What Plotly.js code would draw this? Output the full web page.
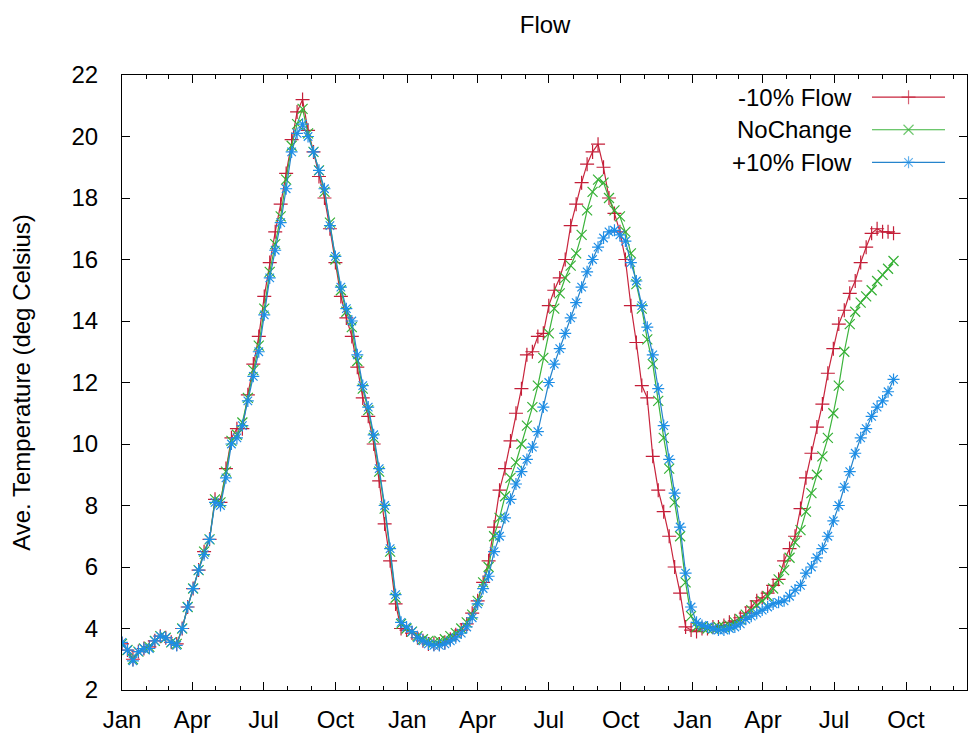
<!DOCTYPE html>
<html>
<head>
<meta charset="utf-8">
<script src="https://cdn.plot.ly/plotly-3.0.1.min.js"></script>
<style>html,body{margin:0;padding:0;background:#fff;}#chart{width:969px;height:735px;}</style>
</head>
<body>
<div id="chart"></div>
<script>
// Weekly series, starting first week of January (year 1), 142 weeks
const startDate = '2001-01-01';
const seriesNames = ['-10% Flow', 'NoChange', '+10% Flow'];

const minus10 = [
  3.5, 3.3, 3.0, 3.25, 3.35, 3.4, 3.6, 3.75, 3.7, 3.55,
  3.5, 4.0, 4.7, 5.3, 5.9, 6.5, 6.9, 8.2, 8.1, 9.2,
  10.2, 10.5, 10.5, 11.6, 12.6, 13.5, 14.8, 15.9, 16.9, 17.8,
  18.8, 19.9, 20.8, 21.2, 20.2, 19.5, 18.7, 18.0, 17.0, 15.9,
  14.8, 14.1, 13.5, 12.5, 11.5, 10.9, 10.0, 8.8, 7.4, 6.2,
  4.8, 4.0, 3.95, 3.85, 3.7, 3.6, 3.5, 3.5, 3.5, 3.55,
  3.65, 3.8, 3.95, 4.15, 4.5, 4.9, 5.5, 6.2, 7.3, 8.5,
  9.2, 10.1, 11.0, 11.8, 12.9, 13.0, 13.5, 13.6, 14.5, 15.0,
  15.4, 16.0, 17.1, 17.8, 18.5, 19.1, 19.5, 19.75, 19.0, 18.0,
  17.5, 16.9, 16.0, 14.5, 13.3, 11.9, 11.5, 9.6, 8.5, 7.8,
  7.0, 6.0, 5.15, 4.05, 3.95, 3.9, 4.0, 4.0, 4.05, 4.05,
  4.1, 4.2, 4.25, 4.35, 4.5, 4.7, 4.9, 5.0, 5.15, 5.4,
  5.6, 6.2, 6.6, 7.0, 7.9, 8.9, 9.7, 10.55, 11.3, 12.3,
  13.1, 13.9, 14.35, 14.9, 15.3, 15.9, 16.4, 16.85, 17.0, 16.9,
  16.9, 16.85
];

const noChange = [
  3.5, 3.3, 3.0, 3.25, 3.35, 3.4, 3.6, 3.75, 3.7, 3.55,
  3.5, 4.0, 4.7, 5.3, 5.9, 6.5, 6.9, 8.2, 8.1, 9.1,
  10.1, 10.3, 10.7, 11.5, 12.4, 13.2, 14.4, 15.6, 16.5, 17.4,
  18.6, 19.7, 20.4, 20.9, 20.1, 19.5, 18.9, 18.2, 17.2, 16.0,
  15.0, 14.3, 13.8, 12.7, 11.8, 11.1, 10.2, 9.1, 7.9, 6.5,
  5.0, 4.15, 4.0, 3.9, 3.75, 3.65, 3.6, 3.55, 3.6, 3.65,
  3.75, 3.85, 4.0, 4.2, 4.45, 4.9, 5.5, 6.0, 7.0, 7.6,
  8.3, 8.9, 9.4, 10.0, 10.6, 11.2, 11.9, 12.8, 13.6, 14.4,
  14.9, 15.4, 15.8, 16.2, 16.8, 17.6, 18.2, 18.6, 18.5, 18.0,
  17.6, 17.4, 16.9, 16.2, 15.2, 14.4, 13.4, 12.6, 11.4, 10.2,
  9.2, 8.1, 7.0, 5.5, 4.4, 4.05, 4.05, 4.0, 4.0, 4.05,
  4.05, 4.1, 4.2, 4.3, 4.45, 4.6, 4.75, 4.9, 5.05, 5.3,
  5.6, 5.9, 6.3, 6.8, 7.2, 7.8, 8.4, 9.0, 9.6, 10.2,
  11.0, 11.9, 13.0, 13.9, 14.3, 14.6, 14.8, 15.0, 15.3, 15.5,
  15.7, 15.95
];

const plus10 = [
  3.55, 3.3, 2.95, 3.25, 3.35, 3.35, 3.6, 3.75, 3.7, 3.55,
  3.45, 4.0, 4.7, 5.3, 5.9, 6.4, 6.9, 8.1, 8.0, 8.9,
  10.0, 10.2, 10.6, 11.4, 12.2, 13.0, 14.2, 15.4, 16.3, 17.2,
  18.3, 19.5, 20.1, 20.4, 20.0, 19.5, 18.9, 18.3, 17.1, 16.1,
  15.1, 14.4, 14.0, 12.9, 11.9, 11.2, 10.3, 9.2, 8.0, 6.6,
  5.1, 4.2, 4.05, 3.9, 3.7, 3.6, 3.5, 3.45, 3.45, 3.5,
  3.6, 3.7, 3.85, 4.05, 4.35, 4.8, 5.3, 5.7, 6.5, 7.0,
  7.6, 8.2, 8.7, 9.1, 9.5, 9.9, 10.4, 11.2, 12.0, 12.6,
  13.1, 13.6, 14.1, 14.6, 15.1, 15.6, 16.0, 16.4, 16.7, 16.9,
  16.95, 16.8, 16.6, 15.9, 15.3, 14.5, 13.8, 12.9, 11.8, 10.6,
  9.5, 8.4, 7.3, 5.8, 4.7, 4.2, 4.1, 4.05, 4.0, 3.95,
  3.95, 4.0, 4.05, 4.15, 4.3, 4.4, 4.5, 4.6, 4.7, 4.8,
  4.85, 4.9, 5.05, 5.25, 5.4, 5.8, 6.0, 6.3, 6.6, 7.0,
  7.5, 8.0, 8.6, 9.1, 9.7, 10.2, 10.5, 10.9, 11.2, 11.4,
  11.7, 12.1
];

const yTickVals = [2, 4, 6, 8, 10, 12, 14, 16, 18, 20, 22];

// weekly dates
function weekDates(n) {
  const out = [];
  const t0 = Date.parse(startDate + 'T00:00:00Z');
  for (let i = 0; i < n; i++) {
    const d = new Date(t0 + i * 7 * 86400000);
    out.push(d.toISOString().slice(0, 10));
  }
  return out;
}
const dates = weekDates(minus10.length);

const colors = ['#c8243c', '#3cb43c', '#2584cc'];
const markerColors = ['#c41e38', '#35b035', '#1e8ee6'];
const symbols = ['cross-thin-open', 'x-thin-open', 'asterisk-open'];
const values = [minus10, noChange, plus10];

const FONT = 'Liberation Sans, Arial, sans-serif';
const FS = 24;

const traces = values.map((v, i) => ({
  type: 'scatter', mode: 'lines+markers', x: dates, y: v, name: seriesNames[i],
  line: {color: colors[i], width: 1.2},
  marker: {symbol: symbols[i], size: 10, color: markerColors[i], line: {width: 1.2, color: markerColors[i]}},
  showlegend: false, hoverinfo: 'skip'
}));

// legend samples (on an overlay axis in 0..1 units)
const legY = [0.964, 0.911, 0.858];
values.forEach((v, i) => {
  traces.push({
    type: 'scatter', mode: 'lines+markers', xaxis: 'x2', yaxis: 'y2',
    x: [0.8876, 0.9308, 0.974], y: [legY[i], legY[i], legY[i]],
    line: {color: colors[i], width: 1.2},
    marker: {symbol: symbols[i], size: [0, 10, 0], color: markerColors[i], line: {width: 1.2, color: markerColors[i]}},
    showlegend: false, hoverinfo: 'skip'
  });
});

const annotations = seriesNames.map((n, i) => ({
  xref: 'paper', yref: 'paper', x: 0.866, y: legY[i], xanchor: 'right', yanchor: 'middle',
  text: n, showarrow: false, font: {family: FONT, size: FS, color: '#000'}
}));

const layout = {
  width: 969, height: 735,
  margin: {l: 122, r: 2, t: 75, b: 45},
  paper_bgcolor: '#fff', plot_bgcolor: '#fff',
  font: {family: FONT, size: FS, color: '#000'},
  title: {text: 'Flow', x: 0.5625, xanchor: 'center', y: 0.966, yanchor: 'middle', yref: 'container', font: {family: FONT, size: FS, color: '#000'}},
  xaxis: {
    type: 'date', range: ['2001-01-01', '2003-12-18'],
    tick0: '2001-01-01', dtick: 'M3', tickformat: '%b',
    ticks: 'inside', ticklen: 8, tickcolor: '#000', tickwidth: 1,
    minor: {dtick: 'M1', ticks: 'inside', ticklen: 4, tickcolor: '#000', showgrid: false},
    showline: true, linecolor: '#000', linewidth: 1, mirror: 'allticks',
    showgrid: false, zeroline: false, ticklabelstandoff: 8,
    tickfont: {family: FONT, size: FS, color: '#000'}
  },
  yaxis: {
    range: [2, 22], tickvals: yTickVals,
    ticks: 'inside', ticklen: 8, tickcolor: '#000', tickwidth: 1,
    showline: true, linecolor: '#000', linewidth: 1, mirror: 'allticks',
    showgrid: false, zeroline: false, ticklabelstandoff: 18,
    tickfont: {family: FONT, size: FS, color: '#000'},
    title: {text: 'Ave. Temperature (deg Celsius)', standoff: 34, font: {family: FONT, size: FS, color: '#000'}}
  },
  xaxis2: {overlaying: 'x', range: [0, 1], visible: false, fixedrange: true},
  yaxis2: {overlaying: 'y', range: [0, 1], visible: false, fixedrange: true},
  annotations: annotations,
  showlegend: false
};

Plotly.newPlot('chart', traces, layout, {displayModeBar: false, staticPlot: true});
</script>
</body>
</html>
